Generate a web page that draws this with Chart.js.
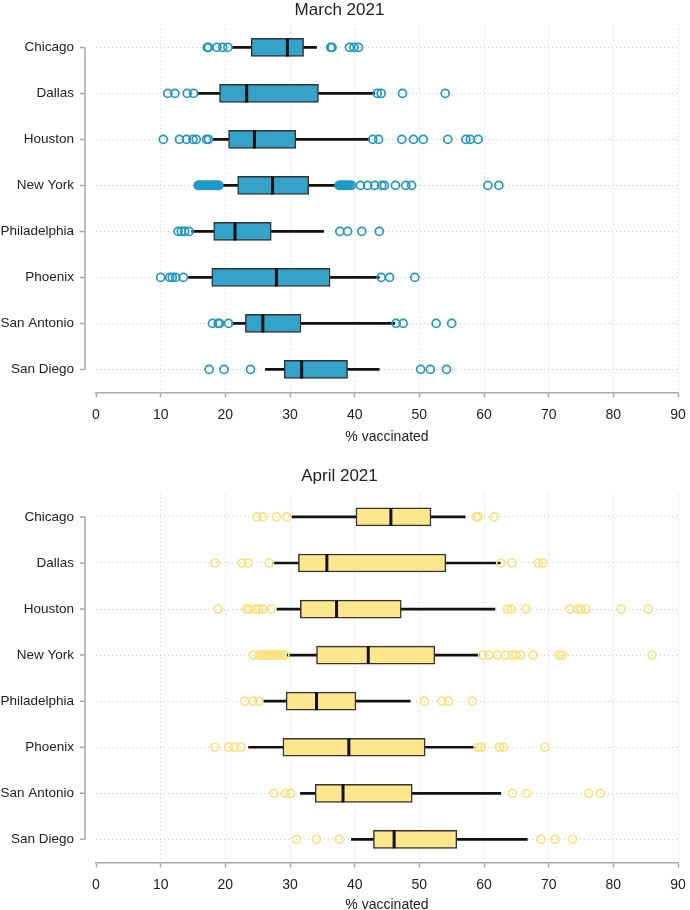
<!DOCTYPE html>
<html>
<head>
<meta charset="utf-8">
<script src="https://cdn.jsdelivr.net/npm/chart.js@4"></script>
<style>
  body { margin: 0; background: #fff; }
  canvas { display: block; }
</style>
</head>
<body>
<canvas id="marchChart" width="690" height="445"></canvas>
<canvas id="aprilChart" width="690" height="465"></canvas>
<script>
// data

const cities = ["Chicago", "Dallas", "Houston", "New York", "Philadelphia", "Phoenix", "San Antonio", "San Diego"];
const xTicks = [0, 10, 20, 30, 40, 50, 60, 70, 80, 90];

// March 2021
const marLow = [21.0, 15.8, 18.0, 19.1, 14.8, 14.3, 21.0, 26.2];
const marQ1 = [24.0, 19.1, 20.5, 21.9, 18.2, 17.9, 23.1, 29.1];
const marMedian = [29.6, 23.3, 24.5, 27.3, 21.5, 27.9, 25.8, 31.8];
const marQ3 = [32.1, 34.4, 30.9, 32.9, 27.1, 36.2, 31.7, 38.9];
const marHigh = [34.1, 43.1, 42.3, 37.4, 35.2, 43.8, 46.2, 43.8];
const marOutliers = [
  [17.2, 17.4, 18.7, 19.6, 20.4, 36.3, 36.5, 39.2, 39.9, 40.6],
  [11.1, 12.2, 14.1, 15.1, 43.5, 44.1, 47.4, 54.0],
  [10.4, 12.9, 14.0, 15.0, 15.5, 17.1, 17.4, 42.8, 43.7, 47.3, 49.1, 50.6, 54.4, 57.2, 57.9, 59.1],
  [15.8, 16.0, 16.2, 16.4, 16.6, 16.8, 17.0, 17.2, 17.4, 17.6, 17.8, 18.0, 18.2, 18.4, 18.6, 18.8, 19.0,
   37.6, 37.8, 38.0, 38.2, 38.4, 38.6, 38.8, 39.0, 39.2, 39.5,
   40.9, 42.0, 43.1, 44.2, 44.6, 46.3, 47.9, 48.8, 60.6, 62.3],
  [12.7, 13.2, 13.7, 14.4, 37.7, 38.9, 41.1, 43.8],
  [10.0, 11.4, 11.8, 12.3, 13.5, 44.1, 45.4, 49.3],
  [18.0, 18.9, 19.1, 20.5, 46.4, 47.5, 52.6, 55.0],
  [17.5, 19.8, 23.9, 50.2, 51.7, 54.2],
];

// April 2021
const aprLow = [30.3, 27.3, 28.0, 29.5, 25.8, 23.6, 31.6, 39.5];
const aprQ1 = [40.2, 31.3, 31.6, 34.1, 29.4, 28.9, 33.9, 42.9];
const aprMedian = [45.6, 35.7, 37.2, 42.1, 34.1, 39.1, 38.2, 46.1];
const aprQ3 = [51.8, 54.1, 47.2, 52.4, 40.2, 50.9, 48.9, 55.8];
const aprHigh = [57.1, 62.5, 61.7, 59.3, 48.6, 58.6, 62.6, 66.7];
const aprOutliers = [
  [24.9, 25.8, 27.9, 29.5, 58.8, 59.1, 61.6],
  [18.4, 22.6, 23.5, 26.8, 62.6, 64.3, 68.4, 69.1],
  [18.9, 23.3, 23.7, 24.7, 25.2, 25.8, 27.1, 63.6, 64.2, 66.5, 73.3, 74.5, 75.0, 75.8, 81.2, 85.4],
  [24.3, 25.3, 25.6, 25.9, 26.2, 26.5, 26.8, 27.1, 27.4, 27.7, 28.0, 28.4, 28.8, 29.2,
   59.8, 60.8, 62.1, 63.3, 64.4, 64.9, 65.7, 67.6, 71.6, 72.1, 86.0],
  [23.0, 24.3, 25.2, 50.8, 53.5, 54.5, 58.2],
  [18.4, 20.5, 21.4, 22.4, 59.1, 59.6, 62.4, 63.0, 69.4],
  [27.5, 29.3, 30.1, 64.4, 66.6, 76.2, 78.0],
  [31.0, 34.1, 37.6, 68.8, 71.0, 73.7],
];

const FONT = "'Liberation Sans', Arial, sans-serif";
const TEXT = "#222";
const AXIS = "#a8a8a8";
const GRID = "#cfcfcf";

// R style left axis: line from first to last category, offset from the plot
const leftAxis = {
  id: "leftAxis",
  afterDraw(chart) {
    const y = chart.scales.y;
    const ctx = chart.ctx;
    const x0 = chart.chartArea.left - 11;
    ctx.save();
    ctx.strokeStyle = AXIS;
    ctx.lineWidth = 1.5;
    ctx.beginPath();
    ctx.moveTo(x0, y.getPixelForValue(0));
    ctx.lineTo(x0, y.getPixelForValue(cities.length - 1));
    for (let i = 0; i < cities.length; i++) {
      const py = y.getPixelForValue(i);
      ctx.moveTo(x0 - 5, py);
      ctx.lineTo(x0, py);
    }
    ctx.stroke();
    ctx.restore();
  },
};

function makeChart(id, title, low, q1, median, q3, high, outliers, fill, pointColor, layoutPad, titlePad, xTitlePad) {
  const whiskers = cities.map((c, i) => [low[i], high[i]]);
  const boxes = cities.map((c, i) => [q1[i], q3[i]]);
  const medians = cities.map((c, i) => ({ x: median[i], y: c }));
  const points = [];
  outliers.forEach((list, i) => {
    list.forEach((v) => points.push({ x: v, y: cities[i] }));
  });

  return new Chart(id, {
    type: "bar",
    data: {
      labels: cities,
      datasets: [
        {
          label: "whisker",
          data: whiskers,
          backgroundColor: "#111",
          barThickness: 2,
          grouped: false,
          order: 4,
        },
        {
          label: "box",
          data: boxes,
          backgroundColor: fill,
          borderColor: "#333",
          borderWidth: 1.5,
          borderSkipped: false,
          barThickness: 18,
          grouped: false,
          order: 3,
        },
        {
          type: "scatter",
          label: "median",
          data: medians,
          pointStyle: "line",
          rotation: 90,
          pointRadius: 9,
          borderWidth: 3,
          borderColor: "#111",
          order: 2,
        },
        {
          type: "scatter",
          label: "outliers",
          data: points,
          pointStyle: "circle",
          pointRadius: 4,
          borderWidth: 1.7,
          borderColor: pointColor,
          backgroundColor: "rgba(0,0,0,0)",
          order: 1,
        },
      ],
    },
    options: {
      indexAxis: "y",
      responsive: false,
      animation: false,
      layout: { padding: layoutPad },
      scales: {
        x: {
          type: "linear",
          min: 0,
          max: 90,
          afterBuildTicks: (scale) => {
            scale.ticks = xTicks.map((v) => ({ value: v }));
          },
          afterFit: (scale) => {
            scale.paddingLeft = 0;
            scale.paddingRight = 0;
          },
          grid: {
            color: (ctx) => (ctx.tick && ctx.tick.value === 0 ? "rgba(0,0,0,0)" : GRID),
            tickColor: AXIS,
            tickWidth: 1.5,
            tickLength: 5,
            tickBorderDash: [],
          },
          border: { display: true, color: AXIS, width: 1.5, dash: [1, 3] },
          ticks: { padding: 9, color: TEXT, font: { family: FONT, size: 14 } },
          title: {
            display: true,
            text: "% vaccinated",
            color: TEXT,
            font: { family: FONT, size: 14 },
            padding: xTitlePad,
          },
        },
        y: {
          afterFit: (scale) => {
            scale.width = 96;
            scale.paddingTop = 0;
            scale.paddingBottom = 0;
          },
          grid: { offset: false, drawTicks: false, color: GRID },
          border: { display: false, dash: [1, 3] },
          ticks: { padding: 22, color: TEXT, font: { family: FONT, size: 13.5 } },
        },
      },
      plugins: {
        legend: { display: false },
        tooltip: { enabled: false },
        title: {
          display: true,
          text: title,
          color: TEXT,
          font: { family: FONT, size: 17, weight: "normal" },
          padding: titlePad,
        },
      },
    },
    plugins: [leftAxis],
  });
}

makeChart("marchChart", "March 2021", marLow, marQ1, marMedian, marQ3, marHigh, marOutliers,
  "#35a3c9", "#1f98c8",
  { top: 0, right: 11, bottom: 1, left: 0 }, { top: 0, bottom: 4 }, { top: -3, bottom: -2 });

makeChart("aprilChart", "April 2021", aprLow, aprQ1, aprMedian, aprQ3, aprHigh, aprOutliers,
  "#fde68b", "#fde17a",
  { top: 21.5, right: 11, bottom: 0, left: 0 }, { top: 0, bottom: 7 }, { top: -5, bottom: -4 });
</script>
</body>
</html>
